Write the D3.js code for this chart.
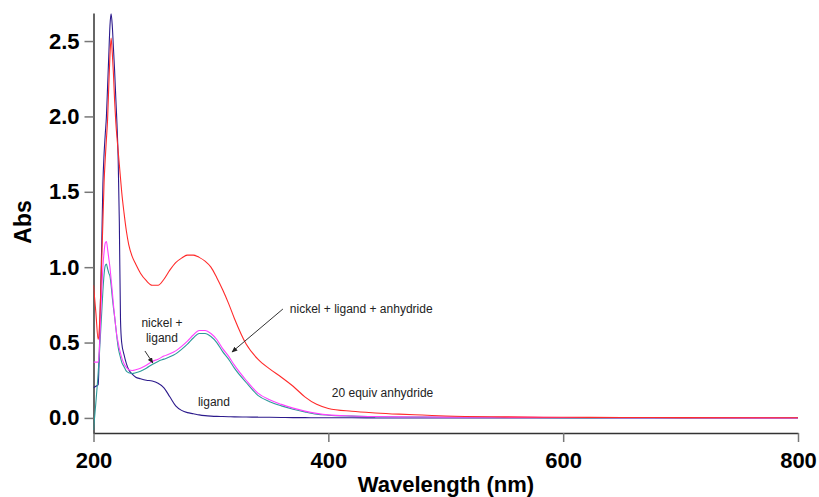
<!DOCTYPE html>
<html>
<head>
<meta charset="utf-8">
<script src="https://cdn.jsdelivr.net/npm/d3@7"></script>
<style>
  body { margin: 0; background: #fff; }
  text { font-family: "Liberation Sans", Arial, sans-serif; }
</style>
</head>
<body>
<div id="chart"></div>
<script>
// wavelength grid (nm) shared by all spectra
var wavelength = [200, 202, 204, 205, 206, 207, 208, 209, 210, 211, 212, 213, 214, 215, 216, 217, 218, 219, 220, 221,
  222, 223, 224, 226, 228, 230, 233, 236, 240, 245, 250, 255, 260, 265, 270, 275, 280, 285, 290, 295,
  300, 305, 310, 315, 320, 330, 340, 350, 360, 370, 380, 390, 400, 420, 440, 460, 480, 500, 550, 600,
  650, 700, 800];

var anhydride = [0.88, 0.70, 0.52, 0.60, 0.80, 1.05, 1.30, 1.56, 1.72, 1.85, 1.98, 2.20, 2.40, 2.52, 2.42, 2.28, 2.10, 1.96, 1.86, 1.77,
  1.68, 1.59, 1.50, 1.36, 1.24, 1.15, 1.07, 1.02, 0.96, 0.91, 0.88, 0.88, 0.92, 0.98, 1.03, 1.06, 1.08, 1.08, 1.065, 1.04,
  1.00, 0.93, 0.85, 0.76, 0.66, 0.49, 0.39, 0.325, 0.27, 0.21, 0.14, 0.09, 0.063, 0.044, 0.033, 0.025, 0.019, 0.013, 0.007, 0.004,
  0.003, 0.002, 0.001];

var ligand = [0.20, 0.21, 0.22, 0.45, 0.80, 1.15, 1.55, 1.75, 1.88, 2.00, 2.20, 2.40, 2.60, 2.68, 2.60, 2.45, 2.30, 2.12, 1.95, 1.72,
  1.30, 0.65, 0.50, 0.42, 0.36, 0.32, 0.29, 0.27, 0.26, 0.25, 0.245, 0.23, 0.20, 0.14, 0.08, 0.05, 0.035, 0.028, 0.02, 0.015,
  0.012, 0.01, 0.009, 0.008, 0.007, 0.006, 0.005, 0.004, 0.003, 0.002, 0.002, 0.001, 0.001, 0.001, 0, 0, 0, 0, 0, 0,
  0, 0, 0];

var nickelLigand = [0.37, 0.37, 0.37, 0.45, 0.65, 0.85, 1.00, 1.10, 1.16, 1.17, 1.12, 1.06, 1.00, 0.92, 0.84, 0.75, 0.67, 0.60, 0.54, 0.50,
  0.46, 0.43, 0.40, 0.36, 0.335, 0.32, 0.315, 0.32, 0.33, 0.35, 0.375, 0.39, 0.41, 0.425, 0.445, 0.475, 0.51, 0.55, 0.58, 0.58,
  0.56, 0.52, 0.46, 0.41, 0.35, 0.25, 0.165, 0.12, 0.09, 0.065, 0.045, 0.03, 0.02, 0.013, 0.009, 0.007, 0.006, 0.005, 0.004, 0.003,
  0.002, 0.001, 0];

var nickelLigandAnhydride = [-0.08, 0.10, 0.30, 0.42, 0.56, 0.70, 0.84, 0.95, 1.01, 1.02, 0.99, 0.96, 0.94, 0.88, 0.80, 0.73, 0.67, 0.60, 0.53, 0.47,
  0.43, 0.40, 0.37, 0.34, 0.31, 0.30, 0.295, 0.30, 0.31, 0.33, 0.355, 0.375, 0.39, 0.405, 0.425, 0.455, 0.49, 0.53, 0.56, 0.56,
  0.54, 0.50, 0.44, 0.39, 0.33, 0.235, 0.15, 0.108, 0.08, 0.058, 0.04, 0.025, 0.018, 0.012, 0.008, 0.006, 0.005, 0.004, 0.003, 0.002,
  0.001, 0.001, 0.001];

var seriesNames = ["ligand", "nickel + ligand + anhydride", "nickel + ligand", "20 equiv anhydride"];
var seriesValues = [ligand, nickelLigandAnhydride, nickelLigand, anhydride];
var seriesColors = ["#2c1a8c", "#2e9a9a", "#ff40ff", "#ff2a2a"];

var xTicks = [200, 400, 600, 800];
var yTicks = [0, 0.5, 1.0, 1.5, 2.0, 2.5];

// annotations in data coordinates (wavelength, abs)
var labels = [
  { text: "nickel +", wl: 258.3, abs: 0.603, anchor: "middle" },
  { text: "ligand", wl: 258.3, abs: 0.504, anchor: "middle" },
  { text: "nickel + ligand + anhydride", wl: 367.2, abs: 0.696, anchor: "start" },
  { text: "20 equiv anhydride", wl: 403, abs: 0.139, anchor: "start" },
  { text: "ligand", wl: 288.9, abs: 0.079, anchor: "start" }
];
var arrows = [
  { wl1: 243.8, abs1: 0.444, wl2: 250.6, abs2: 0.364 },
  { wl1: 361.3, abs1: 0.7225, wl2: 317.9, abs2: 0.437 }
];

var svgWidth = 819;
var svgHeight = 497;
var Margin = { top: 13, right: 21, bottom: 64, left: 93.5 };

var svg = d3.select("#chart")
  .append("svg")
  .attr("width", svgWidth)
  .attr("height", svgHeight);

var x = d3.scaleLinear()
  .domain([200, 800])
  .range([Margin.left, svgWidth - Margin.right]);

var y = d3.scaleLinear()
  .domain([-0.1, 2.686])
  .range([svgHeight - Margin.bottom, Margin.top]);

svg.append("defs").append("clipPath")
  .attr("id", "plot")
  .append("rect")
  .attr("x", Margin.left)
  .attr("y", Margin.top - 1)
  .attr("width", svgWidth - Margin.right - Margin.left + 1)
  .attr("height", svgHeight - Margin.bottom - Margin.top + 1);

svg.append("defs").append("marker")
  .attr("id", "head")
  .attr("viewBox", "0 0 10 10")
  .attr("refX", 9)
  .attr("refY", 5)
  .attr("markerWidth", 6)
  .attr("markerHeight", 6)
  .attr("markerUnits", "userSpaceOnUse")
  .attr("orient", "auto")
  .append("path")
  .attr("d", "M0,1L10,5L0,9Z")
  .attr("fill", "#222");

// axes
var xAxis = svg.append("g")
  .attr("transform", `translate(0, ${y.range()[0]})`)
  .call(d3.axisBottom(x).tickValues(xTicks).tickSize(9).tickSizeOuter(0).tickPadding(10).tickFormat(d3.format("d")));

var yAxis = svg.append("g")
  .attr("transform", `translate(${Margin.left}, 0)`)
  .call(d3.axisLeft(y).tickValues(yTicks).tickSize(9).tickSizeOuter(0).tickPadding(5).tickFormat(d3.format(".1f")));

[xAxis, yAxis].forEach(function(ax) {
  ax.select(".domain").attr("stroke", "#333").attr("stroke-width", 1.5);
  ax.selectAll(".tick line").attr("stroke", "#777").attr("stroke-width", 1.5);
  ax.selectAll(".tick text")
    .attr("fill", "#000")
    .attr("font-size", "22px")
    .attr("font-weight", "bold")
    .style("font-family", "'Liberation Sans', Arial, sans-serif");
});

// axis titles
svg.append("text")
  .attr("x", 446)
  .attr("y", 492)
  .attr("text-anchor", "middle")
  .attr("font-size", "22px")
  .attr("font-weight", "bold")
  .text("Wavelength (nm)");

svg.append("text")
  .attr("transform", "rotate(-90)")
  .attr("x", -222)
  .attr("y", 31)
  .attr("text-anchor", "middle")
  .attr("font-size", "23px")
  .attr("font-weight", "bold")
  .text("Abs");

// spectra
var line = d3.line()
  .curve(d3.curveMonotoneX)
  .x(d => x(d[0]))
  .y(d => y(d[1]));

var plot = svg.append("g").attr("clip-path", "url(#plot)");

seriesValues.forEach(function(vals, i) {
  plot.append("path")
    .datum(wavelength.map((w, j) => [w, vals[j]]))
    .attr("fill", "none")
    .attr("stroke", seriesColors[i])
    .attr("stroke-width", 1.1)
    .attr("stroke-linejoin", "round")
    .attr("d", line)
    .append("title").text(seriesNames[i]);
});

// annotations
labels.forEach(function(l) {
  svg.append("text")
    .attr("x", x(l.wl))
    .attr("y", y(l.abs))
    .attr("text-anchor", l.anchor)
    .attr("font-size", "12px")
    .attr("fill", "#222")
    .text(l.text);
});

arrows.forEach(function(a) {
  svg.append("line")
    .attr("x1", x(a.wl1))
    .attr("y1", y(a.abs1))
    .attr("x2", x(a.wl2))
    .attr("y2", y(a.abs2))
    .attr("stroke", "#333")
    .attr("stroke-width", 1)
    .attr("marker-end", "url(#head)");
});
</script>
</body>
</html>
